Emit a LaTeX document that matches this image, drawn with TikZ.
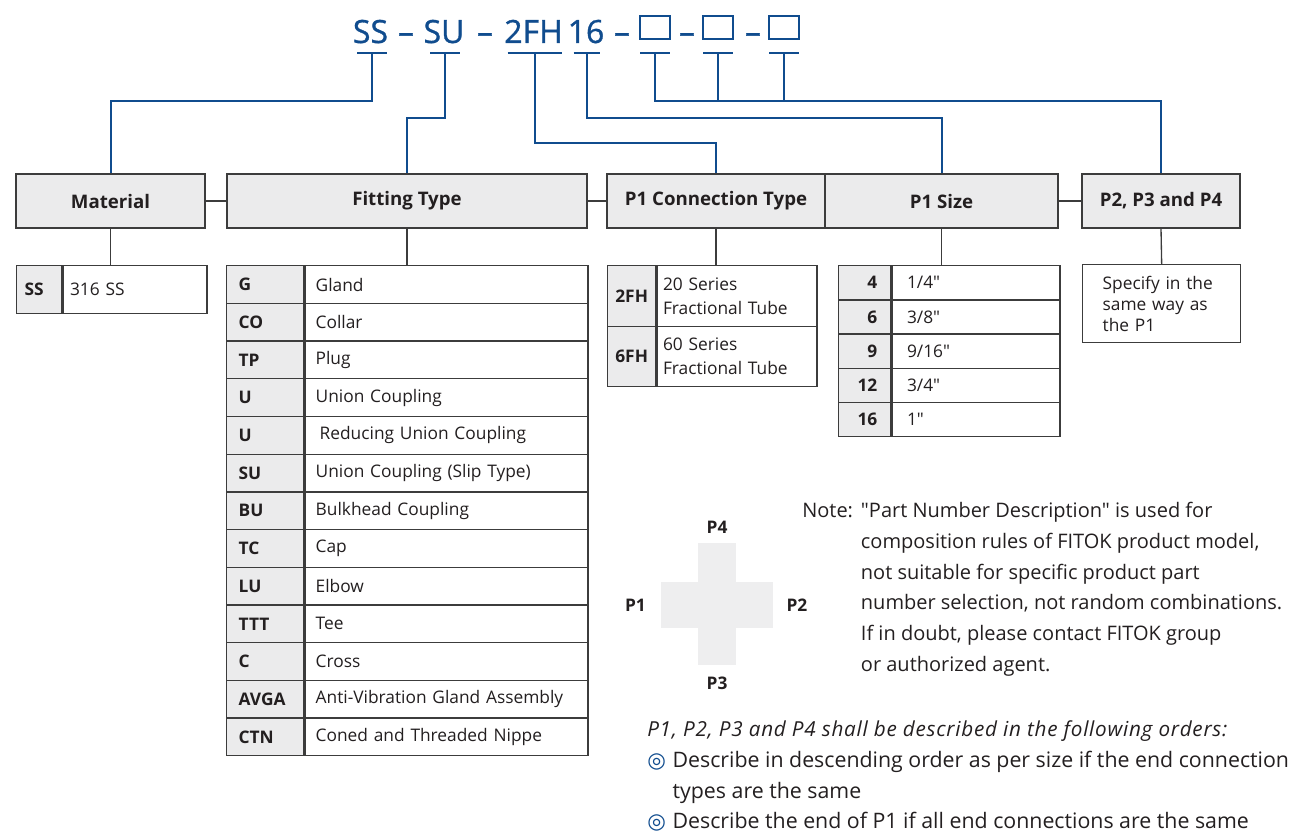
\documentclass[tikz,border=0pt]{standalone}
\usepackage{fontspec}
\setmainfont{Open Sans}[Ligatures=TeXOff]
\newfontfamily\symfont{DejaVu Sans}
\usetikzlibrary{positioning,calc}
\definecolor{fitblue}{RGB}{16,76,142}
\definecolor{hdrgray}{RGB}{235,235,236}
\definecolor{linegray}{RGB}{60,60,60}
\definecolor{txtdark}{RGB}{35,31,32}
\definecolor{crossgray}{RGB}{238,238,239}
\tikzset{
  codetxt/.style={text=fitblue,font=\fontsize{24}{30}\selectfont\addfontfeature{FakeBold=1},inner sep=0pt,anchor=base},
  codebox/.style={draw=fitblue,line width=1.4pt,minimum width=22.5pt,minimum height=17pt,inner sep=0pt},
  bline/.style={draw=fitblue,line width=1.5pt},
  hdr/.style={draw=linegray,fill=hdrgray,line width=1pt,minimum height=40.5pt,font=\fontsize{14}{18}\selectfont\bfseries,text=txtdark},
  keycell/.style={draw=linegray,fill=hdrgray,line width=1pt,font=\fontsize{13}{16}\selectfont\bfseries,text=txtdark,inner xsep=9pt,align=left,anchor=north west},
  valcell/.style={draw=linegray,fill=white,line width=1pt,font=\fontsize{13}{18}\selectfont,text=txtdark,inner xsep=8pt,align=left,anchor=north west},
  link/.style={draw=linegray,line width=1pt},
  crossbar/.style={fill=crossgray,inner sep=0pt},
  plbl/.style={font=\fontsize{13}{16}\selectfont\bfseries,text=txtdark,inner sep=0pt},
  notetxt/.style={font=\fontsize{15}{23}\selectfont,text=txtdark,inner sep=0pt,align=left,anchor=north west}
}

\begin{document}
\begin{tikzpicture}[x=0.75pt,y=-0.75pt]
  \useasboundingbox (0,0) rectangle (1294,831);

  % part number
  \node[codetxt] (cSS) at (370.5,43) {SS};
  \node[codetxt] (d1) at (406,43) {–};
  \node[codetxt] (cSU) at (444,43) {SU};
  \node[codetxt] (d2) at (485,43) {–};
  \node[codetxt] (c2fh) at (533.5,43) {2FH};
  \node[codetxt] (c16) at (586,43) {16};
  \node[codetxt] (d3) at (622,43) {–};
  \node[codebox] (b1) at (655,27.5) {};
  \node[codetxt] (d4) at (687,43) {–};
  \node[codebox] (b2) at (718,27.5) {};
  \node[codetxt] (d5) at (753,43) {–};
  \node[codebox] (b3) at (784,27.5) {};

  \coordinate (u1) at (372,53);
  \coordinate (u2) at (445,53);
  \coordinate (u3) at (535,53);
  \coordinate (u4) at (587,53);
  \coordinate (u5) at (655,53);
  \coordinate (u6) at (718,53);
  \coordinate (u7) at (784,53);
  \coordinate (j1) at (0,101);
  \coordinate (j2) at (0,118);
  \coordinate (j3) at (0,143);

  % headers
  \node[hdr,minimum width=141.75pt] (mat) at (110.5,201) {Material};
  \node[hdr,minimum width=270pt] (fit) at (407,201) {Fitting Type};
  \node[hdr,minimum width=163.5pt] (conn) at (716,201) {P1 Connection Type};
  \node[hdr,minimum width=174.75pt] (size) at (941.5,201) {P1 Size};
  \node[hdr,minimum width=118.5pt] (pn) at (1161,201) {P2, P3 and P4};

  % underlines and leaders
  \draw[bline] ([xshift=-11.25pt]u1) -- ([xshift=11.25pt]u1);
  \draw[bline] ([xshift=-11.25pt]u2) -- ([xshift=11.25pt]u2);
  \draw[bline] ([xshift=-20.6pt]u3) -- ([xshift=20.6pt]u3);
  \draw[bline] ([xshift=-10pt]u4) -- ([xshift=10pt]u4);
  \draw[bline] ([xshift=-11.25pt]u5) -- ([xshift=11.25pt]u5);
  \draw[bline] ([xshift=-11.25pt]u6) -- ([xshift=11.25pt]u6);
  \draw[bline] ([xshift=-11.25pt]u7) -- ([xshift=11.25pt]u7);
  \draw[bline] (u1) -- (u1 |- j1) -| (mat.north);
  \draw[bline] (u2) -- (u2 |- j2) -| (fit.north);
  \draw[bline] (u3) -- (u3 |- j3) -| (conn.north);
  \draw[bline] (u4) -- (u4 |- j2) -| (size.north);
  \draw[bline] (u5) -- (u5 |- j1) -| (pn.north);
  \draw[bline] (u6) -- (u6 |- j1);
  \draw[bline] (u7) -- (u7 |- j1);

  % material
  \node[keycell,inner xsep=6pt,text width=21.75pt,minimum height=36pt] (ssk) at (16,265) {SS};
  \node[valcell,inner xsep=5.25pt,text width=97.5pt,minimum height=36pt] (ssv) at (ssk.north east) {316 SS};

  % fitting type
  \foreach \k/\v [count=\i from 0] in {G/Gland,CO/Collar,TP/Plug,U/Union Coupling,
      U/\hspace*{3pt}Reducing Union Coupling,SU/Union Coupling (Slip Type),BU/Bulkhead Coupling,
      TC/Cap,LU/Elbow,TTT/Tee,C/Cross,AVGA/Anti-Vibration Gland Assembly,CTN/Coned and Threaded Nippe}{
    \node[keycell,text width=39.75pt,minimum height=28.3pt] (ftk\i) at (226,{265+37.7*\i}) {\k};
    \node[valcell,text width=196.25pt,minimum height=28.3pt] (ftv\i) at (ftk\i.north east) {\v};
  }

  % connection type
  \foreach \k/\v [count=\i from 0] in {2FH/{20 Series\\Fractional Tube},6FH/{60 Series\\Fractional Tube}}{
    \node[keycell,inner xsep=1pt,text width=34pt,align=center,minimum height=45.4pt] (ctk\i) at (607,{265+60.5*\i}) {\k};
    \node[valcell,inner xsep=4.5pt,text width=111pt,minimum height=45.4pt] (ctv\i) at (ctk\i.north east) {\v};
  }

  % size
  \foreach \k/\v [count=\i from 0] in {4/{1/4"},6/{3/8"},9/{9/16"},12/{3/4"},16/{1"}}{
    \node[keycell,inner xsep=10pt,text width=19pt,align=right,minimum height=25.65pt] (szk\i) at (838,{265+34.2*\i}) {\k};
    \node[valcell,inner xsep=11.25pt,text width=103.5pt,minimum height=25.65pt] (szv\i) at (szk\i.north east) {\v};
  }

  % P2, P3, P4
  \node[valcell,font=\fontsize{13}{15.75}\selectfont,inner xsep=15pt,text width=88.5pt,minimum height=58.5pt] (pnd) at (1082,264) {Specify in the\\same way as\\the P1};

  % header links
  \draw[link] (mat.east) -- (fit.west);
  \draw[link] (fit.east) -- (conn.west);
  \draw[link] (size.east) -- (pn.west);
  \draw[link] (mat.south) -- (mat.south |- ssv.north);
  \draw[link] (fit.south) -- (fit.south |- ftv0.north);
  \draw[link] (conn.south) -- (conn.south |- ctv0.north);
  \draw[link] (size.south) -- (size.south |- szv0.north);
  \draw[link] (pn.south) -- (pnd.north);

  % cross
  \node[crossbar,minimum width=28.5pt,minimum height=91.5pt] (vbar) at (717,604) {};
  \node[crossbar,minimum width=84pt,minimum height=34.5pt] (hbar) at (717,605) {};
  \node[plbl,above=6.5pt of vbar] (p4) {P4};
  \node[plbl,below=8.8pt of vbar] (p3) {P3};
  \node[plbl,left=11pt of hbar] (p1) {P1};
  \node[plbl,right=9.75pt of hbar] (p2) {P2};

  % notes
  \node[notetxt] (note) at (802,496) {\begin{tabular}{@{}p{44pt}@{}l@{}}
    Note: & "Part Number Description" is used for\\
    & composition rules of FITOK product model,\\
    & not suitable for specific product part\\
    & number selection, not random combinations.\\
    & If in doubt, please contact FITOK group\\
    & or authorized agent.
  \end{tabular}};
  \node[notetxt,font=\fontsize{16}{23}\selectfont] (order) at (647,715) {\begin{tabular}{@{}p{19pt}@{}l@{}}
    \multicolumn{2}{@{}l@{}}{\fontsize{15.5}{23}\selectfont\itshape\addfontfeature{LetterSpace=3.6}P1, P2, P3 and P4 shall be described in the following orders:}\\
    \textcolor{fitblue}{\symfont ◎} & Describe in descending order as per size if the end connection\\
    & types are the same\\
    \textcolor{fitblue}{\symfont ◎} & Describe the end of P1 if all end connections are the same
  \end{tabular}};
\end{tikzpicture}
\end{document}
